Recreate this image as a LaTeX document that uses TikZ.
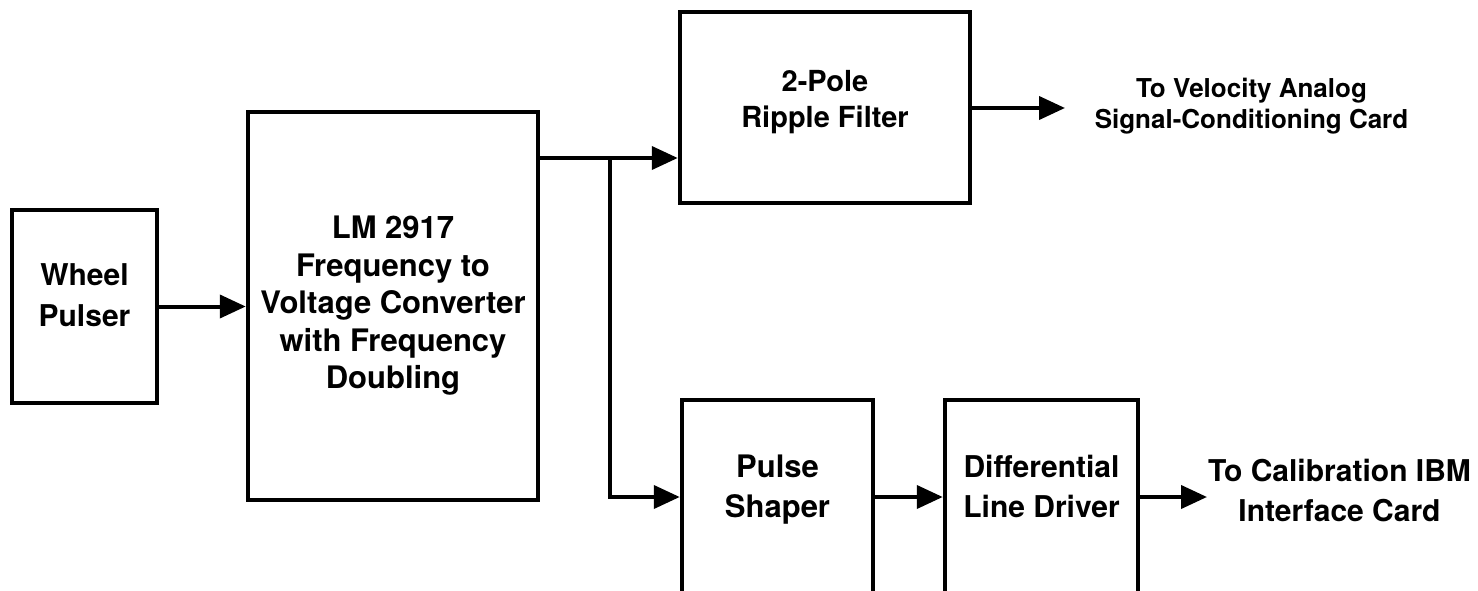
\documentclass[tikz,border=0pt]{standalone}
\usepackage{fontspec}
\setmainfont{TeX Gyre Heros}
\usetikzlibrary{arrows.meta}

\begin{document}
\begin{tikzpicture}[x=1pt, y=-1pt,
    block/.style={draw, line width=4.5pt, inner sep=0pt, align=center,
      font=\bfseries\fontsize{30}{38}\selectfont},
    link/.style={line width=4pt, -{Triangle[length=26pt, width=23pt]}},
    wire/.style={line width=4pt},
    label text/.style={align=center, inner sep=0pt}]

  % ===== Frame of the page =====
  \useasboundingbox (0, 0) rectangle (1478, 591);

  % ===== Blocks =====
  \node[block, minimum width=145pt, minimum height=193pt, text depth=23pt,
    font=\bfseries\fontsize{30}{41}\selectfont] (wheel) at (84.5, 306.5)
    {Wheel\\Pulser};
  \node[block, minimum width=290pt, minimum height=388pt,
    font=\bfseries\fontsize{31}{37.5}\selectfont] (conv) at (393, 306)
    {LM 2917\\Frequency to\\Voltage Converter\\with Frequency\\Doubling};
  \node[block, minimum width=290pt, minimum height=191pt, text depth=17pt,
    font=\bfseries\fontsize{29}{36}\selectfont] (ripple) at (825, 107.5)
    {2-Pole\\Ripple Filter};
  \node[block, minimum width=191pt, minimum height=194pt, text depth=22pt,
    font=\bfseries\fontsize{31}{40}\selectfont] (shaper) at (777.5, 497)
    {Pulse\\Shaper};
  \node[block, minimum width=193pt, minimum height=194pt, text depth=22pt,
    font=\bfseries\fontsize{30}{40}\selectfont] (driver) at (1041.5, 497)
    {Differential\\Line Driver};

  % ===== Outputs =====
  \coordinate (split) at (610, 158);
  \coordinate (velocity end) at (1065, 108);
  \coordinate (ibm end) at (1207, 497);
  \node[label text, font=\bfseries\fontsize{26}{31}\selectfont] (velocity)
    at (1251.5, 106) {To Velocity Analog\\Signal-Conditioning Card};
  \node[label text, font=\bfseries\fontsize{30}{40}\selectfont] (ibm)
    at (1339.5, 491) {To Calibration IBM\\Interface Card};

  % ===== Connectors =====
  \draw[link] (wheel.east) -- (wheel.east -| conv.west);
  \draw[wire] (split -| conv.east) -- (split);
  \draw[link] (split) -- (split -| ripple.west);
  \draw[link] (split) |- (shaper.west);
  \draw[link] (shaper.east) -- (driver.west);
  \draw[link] (velocity end -| ripple.east) -- (velocity end);
  \draw[link] (driver.east) -- (ibm end);

\end{tikzpicture}
\end{document}
